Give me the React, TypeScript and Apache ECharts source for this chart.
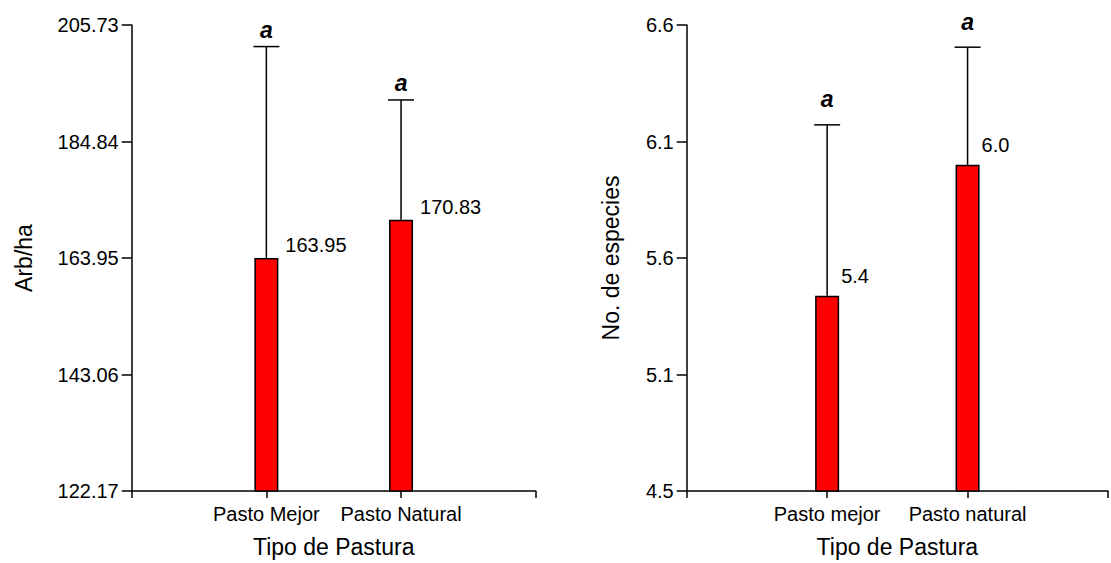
import React, { useEffect, useRef } from "react";
import * as echarts from "echarts";

// Left panel: tree density by pasture type
const categoriesL = ["Pasto Mejor", "Pasto Natural"];
const meansL = [163.95, 170.83];
const errorsL = [37.91, 21.46];
const lettersL = ["a", "a"];
const yTicksL = ["122.17", "143.06", "163.95", "184.84", "205.73"];

// Right panel: species count by pasture type
const categoriesR = ["Pasto mejor", "Pasto natural"];
const meansR = [5.38, 5.97];
const errorsR = [0.77, 0.53];
const lettersR = ["a", "a"];
const yTicksR = ["4.5", "5.1", "5.6", "6.1", "6.6"];

const FONT = '"Liberation Sans", Arial, Helvetica, sans-serif';

function yAxisFor(ticks: string[], gridIndex: number, name: string, nameGap: number) {
  const min = Number(ticks[0]);
  const max = Number(ticks[ticks.length - 1]);
  const interval = (max - min) / (ticks.length - 1);
  return {
    type: "value",
    gridIndex,
    min,
    max,
    interval,
    name,
    nameLocation: "middle",
    nameGap,
    nameTextStyle: { fontSize: 23, color: "#000", fontFamily: FONT },
    axisLine: { show: true, lineStyle: { color: "#000", width: 1.5 } },
    axisTick: { show: true, length: 10, lineStyle: { color: "#000", width: 1.5 } },
    axisLabel: {
      margin: 13,
      fontSize: 20,
      color: "#000",
      fontFamily: FONT,
      formatter: (v: number) => ticks[Math.round((v - min) / interval)] ?? "",
    },
    splitLine: { show: false },
  };
}

function xAxisFor(categories: string[], gridIndex: number) {
  return {
    type: "value",
    gridIndex,
    min: 0,
    max: categories.length + 1,
    interval: 1,
    name: "Tipo de Pastura",
    nameLocation: "middle",
    nameGap: 44,
    nameTextStyle: { fontSize: 23, color: "#000", fontFamily: FONT },
    axisLine: { show: true, lineStyle: { color: "#000", width: 1.5 } },
    axisTick: { show: true, length: 7, lineStyle: { color: "#000", width: 1.5 } },
    axisLabel: {
      margin: 13,
      fontSize: 20,
      color: "#000",
      fontFamily: FONT,
      showMinLabel: true,
      showMaxLabel: true,
      formatter: (v: number) => categories[Math.round(v) - 1] ?? "",
    },
    splitLine: { show: false },
  };
}

function seriesFor(
  means: number[],
  errors: number[],
  letters: string[],
  axisIndex: number,
  digits: number,
  letterGap: number,
  valueDx: number,
  valueDy: number
) {
  const bars = {
    type: "bar",
    xAxisIndex: axisIndex,
    yAxisIndex: axisIndex,
    barWidth: 24,
    data: means.map((m, i) => [i + 1, m]),
    itemStyle: { color: "#ff0000", borderColor: "#000", borderWidth: 1.5 },
    silent: true,
  };
  const whiskers = {
    type: "custom",
    xAxisIndex: axisIndex,
    yAxisIndex: axisIndex,
    silent: true,
    z: 3,
    data: means.map((m, i) => [i + 1, m, errors[i]]),
    renderItem: (params: any, api: any) => {
      const x = api.value(0);
      const m = api.value(1);
      const e = api.value(2);
      const base = api.coord([x, m]);
      const top = api.coord([x, m + e]);
      const half = 13;
      const line = { stroke: "#000", lineWidth: 1.5 };
      return {
        type: "group",
        children: [
          { type: "line", shape: { x1: base[0], y1: base[1], x2: top[0], y2: top[1] }, style: line },
          { type: "line", shape: { x1: top[0] - half, y1: top[1], x2: top[0] + half, y2: top[1] }, style: line },
          {
            type: "text",
            x: top[0],
            y: top[1] - letterGap,
            style: {
              text: letters[params.dataIndex],
              align: "center",
              verticalAlign: "bottom",
              fontSize: 23,
              fontStyle: "italic",
              fontWeight: "bold",
              fontFamily: FONT,
              fill: "#000",
            },
          },
          {
            type: "text",
            x: base[0] + valueDx,
            y: base[1] - valueDy,
            style: {
              text: Number(m).toFixed(digits),
              align: "left",
              verticalAlign: "bottom",
              fontSize: 20,
              fontFamily: FONT,
              fill: "#000",
            },
          },
        ],
      };
    },
  };
  return [bars, whiskers];
}

export default function App() {
  const ref = useRef<HTMLDivElement>(null);

  useEffect(() => {
    if (!ref.current) return;
    const chart = echarts.init(ref.current, undefined, { renderer: "svg" });
    chart.setOption({
      animation: false,
      backgroundColor: "#fff",
      textStyle: { fontFamily: FONT },
      grid: [
        { left: 131.7, top: 25, width: 404, bottom: 70 },
        { left: 686.7, top: 25, width: 437.3, bottom: 70 },
      ],
      xAxis: [xAxisFor(categoriesL, 0), xAxisFor(categoriesR, 1)],
      yAxis: [
        yAxisFor(yTicksL, 0, "Arb/ha", 96),
        yAxisFor(yTicksR, 1, "No. de especies", 64),
      ],
      series: [
        ...seriesFor(meansL, errorsL, lettersL, 0, 2, 5, 19, 3),
        ...seriesFor(meansR, errorsR, lettersR, 1, 1, 14, 14, 10),
      ],
    });
    return () => chart.dispose();
  }, []);

  return (
    <div
      ref={ref}
      style={{ position: "fixed", left: 0, top: 0, width: 1111, height: 563, background: "#fff" }}
    />
  );
}
